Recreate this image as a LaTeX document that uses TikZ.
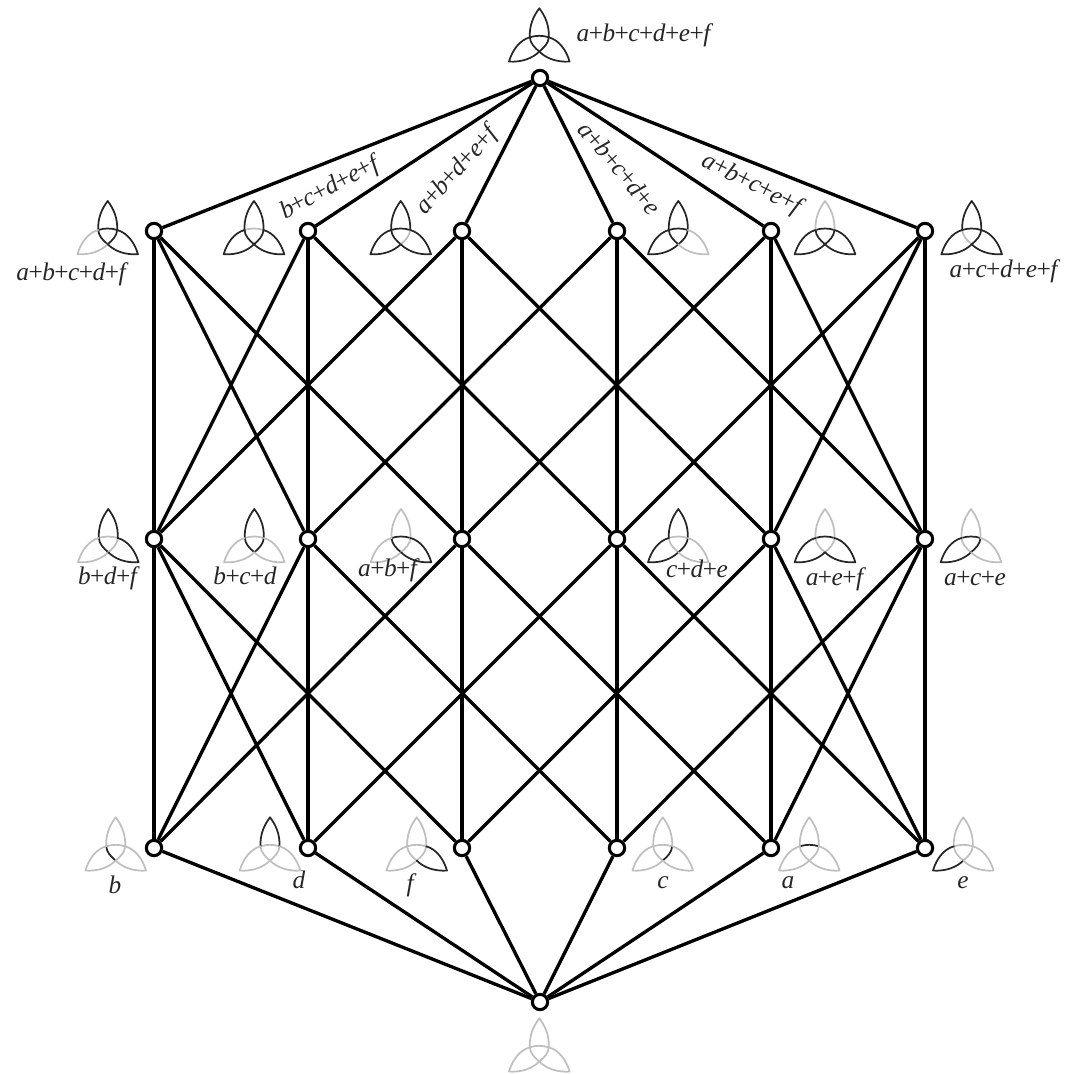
\documentclass[tikz,border=0pt]{standalone}
\usepackage{fontspec}
\setmainfont{Liberation Serif}
\definecolor{tqon}{gray}{0.15}
\definecolor{tqoff}{gray}{0.75}
\newcommand{\ii}[1]{\textit{#1}}
\newcommand{\pl}{\kern-0.4pt+\kern-0.4pt}
% glyph: x, y of top tip, then colours of segments a b c d e f
\newcommand{\tq}[8]{%
  \begin{scope}[shift={(#1,#2)},tqline]
    \draw[#3] (-9.5,29) .. controls (-3,27) and (3,27) .. (9.5,29);
    \draw[#4] (-9.5,29) .. controls (-9,35) and (-5,39) .. (0,43.3);
    \draw[#5] (9.5,29) .. controls (9,35) and (5,39) .. (0,43.3);
    \draw[#6] (-9.5,29) .. controls (-10,17) and (-6,8) .. (0,0) .. controls (6,8) and (10,17) .. (9.5,29);
    \draw[#7] (-9.5,29) .. controls (-20,32) and (-27,42) .. (-30.3,53.3) .. controls (-17,54) and (-7,50) .. (0,43.3);
    \draw[#8] (9.5,29) .. controls (20,32) and (27,42) .. (30.3,53.3) .. controls (17,54) and (7,50) .. (0,43.3);
  \end{scope}}
\tikzset{
  tqline/.style={line width=1.3pt,line join=round,line cap=round},
  dot/.style={circle,draw=black,fill=white,line width=2.3pt,inner sep=0pt,minimum size=11.5pt},
  edge/.style={draw=black,line width=2.5pt},
  lab/.style={inner sep=0pt,anchor=base,text=black!85,font=\fontsize{19}{21}\selectfont},
  rlab/.style={inner sep=0pt,anchor=center,text=black!85,font=\fontsize{19}{21}\selectfont},
}
\begin{document}
\begin{tikzpicture}[x=0.75pt,y=-0.75pt]
\useasboundingbox (0,0) rectangle (1071,1074);
% nodes
\node[dot] (top) at (540,78) {};
\node[dot] (bot) at (540,1002) {};
\foreach \n/\x in {1/154,2/308,3/462,4/617,5/771,6/925}{
  \node[dot] (A\n) at (\x,231) {};
  \node[dot] (B\n) at (\x,539) {};
  \node[dot] (C\n) at (\x,848) {};
}
% edges
\foreach \n in {1,...,6}{
  \draw[edge] (top) -- (A\n);
  \draw[edge] (bot) -- (C\n);
}
\foreach \u/\v in {1/1,1/2,1/3,2/1,2/2,2/4,3/1,3/3,3/5,4/2,4/4,4/6,5/3,5/5,5/6,6/4,6/5,6/6}{
  \draw[edge] (A\u) -- (B\v);
  \draw[edge] (C\u) -- (B\v);
}
% glyphs
\tq{539.3}{8.3}{tqon}{tqon}{tqon}{tqon}{tqon}{tqon}
\tq{107.7}{201}{tqon}{tqon}{tqon}{tqon}{tqoff}{tqon}
\tq{254}{201}{tqoff}{tqon}{tqon}{tqon}{tqon}{tqon}
\tq{400.7}{201}{tqon}{tqon}{tqoff}{tqon}{tqon}{tqon}
\tq{678.3}{201}{tqon}{tqon}{tqon}{tqon}{tqon}{tqoff}
\tq{825}{201}{tqon}{tqon}{tqon}{tqoff}{tqon}{tqon}
\tq{971.7}{201}{tqon}{tqoff}{tqon}{tqon}{tqon}{tqon}
\tq{108.3}{509}{tqoff}{tqon}{tqoff}{tqon}{tqoff}{tqon}
\tq{254.3}{509}{tqoff}{tqon}{tqon}{tqon}{tqoff}{tqoff}
\tq{401}{509}{tqon}{tqon}{tqoff}{tqoff}{tqoff}{tqon}
\tq{678.3}{509}{tqoff}{tqoff}{tqon}{tqon}{tqon}{tqoff}
\tq{825}{509}{tqon}{tqoff}{tqoff}{tqoff}{tqon}{tqon}
\tq{971}{509}{tqon}{tqoff}{tqon}{tqoff}{tqon}{tqoff}
\tq{115.7}{817.3}{tqoff}{tqon}{tqoff}{tqoff}{tqoff}{tqoff}
\tq{270}{817.3}{tqoff}{tqoff}{tqoff}{tqon}{tqoff}{tqoff}
\tq{416.7}{817.3}{tqoff}{tqoff}{tqoff}{tqoff}{tqoff}{tqon}
\tq{662.7}{817.3}{tqoff}{tqoff}{tqon}{tqoff}{tqoff}{tqoff}
\tq{809.3}{817.3}{tqon}{tqoff}{tqoff}{tqoff}{tqoff}{tqoff}
\tq{963.3}{817.3}{tqoff}{tqoff}{tqoff}{tqoff}{tqon}{tqoff}
\tq{539.3}{1018.3}{tqoff}{tqoff}{tqoff}{tqoff}{tqoff}{tqoff}
% labels
\node[lab] (Ltop) at (645,42) {\ii{a}\pl\ii{b}\pl\ii{c}\pl\ii{d}\pl\ii{e}\pl\ii{f}};
\node[lab] (LA1) at (72.5,280.7) {\ii{a}\pl\ii{b}\pl\ii{c}\pl\ii{d}\pl\ii{f}};
\node[rlab,rotate=28] (LA2) at (331,188) {\ii{b}\pl\ii{c}\pl\ii{d}\pl\ii{e}\pl\ii{f}};
\node[rlab,rotate=48] (LA3) at (458,170) {\ii{a}\pl\ii{b}\pl\ii{d}\pl\ii{e}\pl\ii{f}};
\node[rlab,rotate=-50] (LA4) at (620,168) {\ii{a}\pl\ii{b}\pl\ii{c}\pl\ii{d}\pl\ii{e}};
\node[rlab,rotate=-27] (LA5) at (753,185) {\ii{a}\pl\ii{b}\pl\ii{c}\pl\ii{e}\pl\ii{f}};
\node[lab] (LA6) at (1005,277) {\ii{a}\pl\ii{c}\pl\ii{d}\pl\ii{e}\pl\ii{f}};
\node[lab] (LB1) at (109,584) {\ii{b}\pl\ii{d}\pl\ii{f}};
\node[lab] (LB2) at (245,584) {\ii{b}\pl\ii{c}\pl\ii{d}};
\node[lab] (LB3) at (389,576) {\ii{a}\pl\ii{b}\pl\ii{f}};
\node[lab] (LB4) at (697,577) {\ii{c}\pl\ii{d}\pl\ii{e}};
\node[lab] (LB5) at (836,585) {\ii{a}\pl\ii{e}\pl\ii{f}};
\node[lab] (LB6) at (975,585) {\ii{a}\pl\ii{c}\pl\ii{e}};
\node[lab] (LC1) at (115,893) {\ii{b}};
\node[lab] (LC2) at (299,888) {\ii{d}};
\node[lab] (LC3) at (411.7,891) {\ii{f}};
\node[lab] (LC4) at (663,888) {\ii{c}};
\node[lab] (LC5) at (788,888) {\ii{a}};
\node[lab] (LC6) at (963,888) {\ii{e}};
\end{tikzpicture}
\end{document}
